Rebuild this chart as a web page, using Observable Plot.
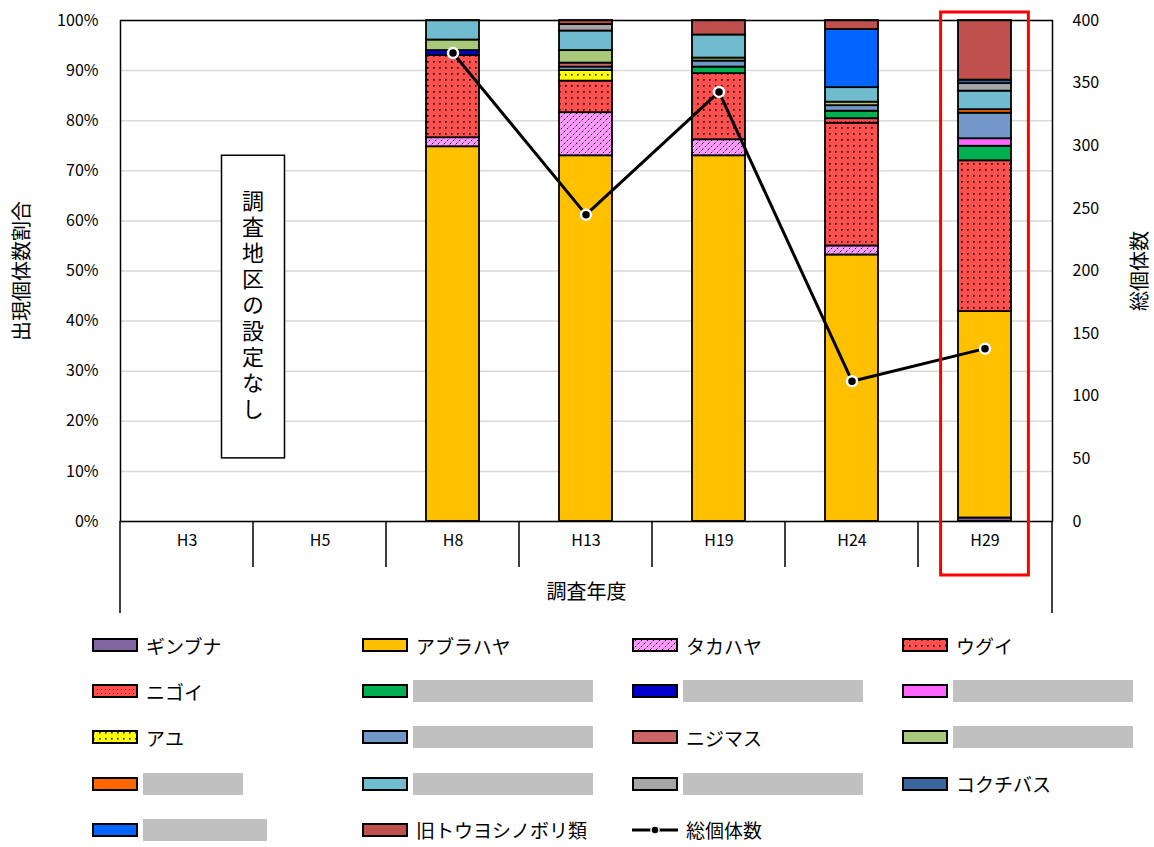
<!DOCTYPE html>
<html>
<head>
<meta charset="utf-8">
<script src="https://cdn.jsdelivr.net/npm/d3@7"></script>
<script src="https://cdn.jsdelivr.net/npm/@observablehq/plot@0.6"></script>
<style>
  body { margin: 0; background: #fff; font-family: "Noto Sans CJK JP", "Noto Sans", sans-serif; }
  #wrap { position: relative; width: 1154px; height: 847px; }
  #legend { position: absolute; left: 92px; top: 622px; display: grid;
            grid-template-columns: repeat(4, 270px); grid-auto-rows: 46.2px; }
  .item { display: flex; align-items: center; font-size: 19px; color: #000; }
  .item svg { flex: none; }
  .item span.lab { margin-left: 8px; white-space: nowrap; }
  .item span.mask { margin-left: 5px; height: 22px; background: #c0c0c0; }
</style>
</head>
<body>
<!-- fill patterns shared by the bars and the legend swatches -->
<svg width="0" height="0" style="position:absolute">
  <defs>
    <pattern id="pat-takahaya" width="6" height="6" patternUnits="userSpaceOnUse">
      <rect width="6" height="6" fill="#ff99ff"/>
      <path d="M0,6 L6,0" stroke="#000" stroke-width="1" stroke-dasharray="2,2"/>
    </pattern>
    <pattern id="pat-ugui" width="6" height="6" patternUnits="userSpaceOnUse">
      <rect width="6" height="6" fill="#ff5050"/>
      <rect x="1" y="1" width="1.6" height="1.6" fill="#000"/>
    </pattern>
    <pattern id="pat-nigoi" width="4" height="4" patternUnits="userSpaceOnUse">
      <rect width="4" height="4" fill="#ff5050"/>
      <rect x="1" y="1" width="1" height="1" fill="#333399"/>
    </pattern>
    <pattern id="pat-ayu" width="6" height="6" patternUnits="userSpaceOnUse">
      <rect width="6" height="6" fill="#ffff00"/>
      <rect x="1" y="2" width="1.6" height="1.6" fill="#1f1f80"/>
    </pattern>
  </defs>
</svg>
<div id="wrap"></div>
<script>
// survey years (category axis)
const years = ["H3", "H5", "H8", "H13", "H19", "H24", "H29"];

// species in stacking order (bottom to top), also the legend order
const species = ["ギンブナ", "アブラハヤ", "タカハヤ", "ウグイ", "ニゴイ", "非公表1", "非公表2", "非公表3",
                 "アユ", "非公表4", "ニジマス", "非公表5", "非公表6", "非公表7", "非公表8", "コクチバス",
                 "非公表9", "旧トウヨシノボリ類"];
// species whose names are withheld in the legend
const undisclosed = ["非公表1", "非公表2", "非公表3", "非公表4", "非公表5", "非公表6", "非公表7", "非公表8", "非公表9"];

// share of individuals (%) per species, aligned with `species`
const shareH8  = [0, 74.8, 1.8, 16.4, 0, 0, 1.0, 0, 0, 0, 0, 2.1, 0, 3.9, 0, 0, 0, 0];
const shareH13 = [0, 73.0, 8.6, 6.3, 0, 0, 0, 0, 2.1, 0.7, 0.8, 2.5, 0, 3.9, 1.3, 0, 0, 0.8];
const shareH19 = [0, 73.0, 3.2, 13.2, 0, 1.3, 0, 0, 0, 1.2, 0, 0.6, 0, 4.6, 0, 0, 0, 2.9];
const shareH24 = [0, 53.2, 1.8, 24.5, 0.9, 1.5, 0, 0, 0, 1.1, 0, 0.7, 0, 2.9, 0, 0, 11.6, 1.8];
const shareH29 = [0.7, 41.2, 0, 30.1, 0, 2.9, 0, 1.5, 0, 5.1, 0, 0, 0.7, 3.7, 1.5, 0.7, 0, 11.9];

// total number of individuals per year (right axis); null = not surveyed
const totals = [null, null, 374, 245, 343, 112, 138];

// axis ticks
const pctTicks = [0, 10, 20, 30, 40, 50, 60, 70, 80, 90, 100];
const countTicks = [0, 50, 100, 150, 200, 250, 300, 350, 400];
const countMax = 400;

// fills for each species (colours or patterns)
const speciesFill = ["#8064a2", "#ffc000", "url(#pat-takahaya)", "url(#pat-ugui)", "url(#pat-nigoi)",
                     "#00b050", "#0000cc", "#ff66ff", "url(#pat-ayu)", "#7298ca", "#cc6666", "#a9c97a",
                     "#ff6600", "#70bcce", "#a6a6a6", "#3c6699", "#0066ff", "#c0504d"];
// width of the grey masks over withheld names
const maskWidth = {"非公表1": 180, "非公表2": 180, "非公表3": 180, "非公表4": 180, "非公表5": 180,
                   "非公表6": 100, "非公表7": 180, "非公表8": 180, "非公表9": 124};

// long table for the stacked bars
const sharesByYear = {H8: shareH8, H13: shareH13, H19: shareH19, H24: shareH24, H29: shareH29};
const rows = [];
for (const yr of years) {
  const vals = sharesByYear[yr];
  if (!vals) continue;
  vals.forEach((v, j) => { if (v > 0) rows.push({year: yr, species: species[j], pct: v}); });
}
const totalRows = years.map((yr, i) => ({year: yr, total: totals[i]})).filter(d => d.total != null);
const toPct = c => c * 100 / countMax;

const font = "'Noto Sans CJK JP', 'Noto Sans', sans-serif";

const plot = Plot.plot({
  width: 1154,
  height: 620,
  marginLeft: 120,
  marginRight: 102,
  marginTop: 20,
  marginBottom: 99,
  style: {fontFamily: font, fontSize: "16px", color: "#000", background: "transparent", overflow: "visible"},
  x: {domain: years, paddingInner: 0.6, paddingOuter: 0.3, axis: null},
  y: {domain: [0, 100], axis: null},
  color: {domain: species, range: speciesFill},
  marks: [
    Plot.gridY(pctTicks, {stroke: "#d9d9d9", strokeOpacity: 1, strokeWidth: 1.5}),
    Plot.barY(rows, {x: "year", y: "pct", fill: "species", order: species,
                     stroke: "#000", strokeWidth: 1.8}),
    Plot.axisY(pctTicks, {anchor: "left", tickSize: 0, tickPadding: 22, label: null,
                          tickFormat: d => d + "%", fontSize: 16}),
    Plot.axisY(countTicks.map(toPct), {anchor: "right", tickSize: 0, tickPadding: 20, label: null,
                          tickFormat: d => String(Math.round(d * countMax / 100)), fontSize: 16}),
    Plot.frame({stroke: "#000", strokeWidth: 1.5}),
    Plot.text(years, {x: d => d, frameAnchor: "bottom", dy: 24, fontSize: 16}),
    Plot.text(["調査年度"], {frameAnchor: "bottom", dy: 77, fontSize: 20}),
    Plot.text(["出現個体数割合"], {frameAnchor: "left", dx: -98, rotate: -90, textAnchor: "middle", fontSize: 20}),
    Plot.text(["総個体数"], {frameAnchor: "right", dx: 88, rotate: -90, textAnchor: "middle", fontSize: 20}),
    Plot.line(totalRows, {x: "year", y: d => toPct(d.total), stroke: "#000", strokeWidth: 3}),
    Plot.dot(totalRows, {x: "year", y: d => toPct(d.total), r: 5, fill: "#000",
                         stroke: "#fff", strokeWidth: 2.5})
  ]
});

// category separators, the note box and the highlight frame, placed from the plot's scales
const xs = plot.scale("x"), ys = plot.scale("y");
const gap = xs.step - xs.bandwidth;
const y0 = ys.apply(0), yTop = ys.apply(100);
const [xLeft, xRight] = xs.range;
const svg = d3.select(plot);
const extra = svg.append("g").attr("stroke", "#000").attr("stroke-width", 1.5);
years.slice(1).forEach(yr => {
  const xb = xs.apply(yr) - gap / 2;
  extra.append("line").attr("x1", xb).attr("x2", xb).attr("y1", y0).attr("y2", y0 + 46);
});
[xLeft, xRight].forEach(xb => {
  extra.append("line").attr("x1", xb).attr("x2", xb).attr("y1", y0).attr("y2", y0 + 92);
});

// "no survey district" note between H3 and H5
const noteX = xs.apply("H5") - gap / 2;
const noteTop = ys.apply(73), noteBottom = ys.apply(12.6);
svg.append("rect").attr("x", noteX - 31.5).attr("y", noteTop).attr("width", 63)
  .attr("height", noteBottom - noteTop).attr("fill", "#fff").attr("stroke", "#000").attr("stroke-width", 1.5);
svg.append("text").attr("x", noteX).attr("y", (noteTop + noteBottom) / 2)
  .attr("text-anchor", "middle").attr("font-size", 22).attr("font-family", font)
  .style("writing-mode", "vertical-rl").style("text-orientation", "upright")
  .style("letter-spacing", "4px").text("調査地区の設定なし");

// highlight frame around the latest survey
const hx = xs.apply("H29") + xs.bandwidth / 2;
svg.append("rect").attr("x", hx - xs.step * 0.33).attr("y", yTop - 8)
  .attr("width", xs.step * 0.66).attr("height", y0 + 54 - (yTop - 8))
  .attr("fill", "none").attr("stroke", "#ff0000").attr("stroke-width", 3);

const wrap = document.getElementById("wrap");
wrap.appendChild(plot);

// legend
const legend = document.createElement("div");
legend.id = "legend";
species.forEach((s, j) => {
  const item = document.createElement("div");
  item.className = "item";
  item.innerHTML = `<svg width="46" height="14"><rect x="1" y="1" width="44" height="12" fill="${speciesFill[j]}" stroke="#000" stroke-width="2"/></svg>`;
  const lab = document.createElement("span");
  if (undisclosed.includes(s)) {
    lab.className = "mask";
    lab.style.width = maskWidth[s] + "px";
  } else {
    lab.className = "lab";
    lab.textContent = s;
  }
  item.appendChild(lab);
  legend.appendChild(item);
});
const lineItem = document.createElement("div");
lineItem.className = "item";
lineItem.innerHTML = `<svg width="46" height="14"><line x1="0" x2="46" y1="7" y2="7" stroke="#000" stroke-width="3"/><circle cx="23" cy="7" r="4" fill="#000" stroke="#fff" stroke-width="1.5"/></svg><span class="lab">総個体数</span>`;
legend.appendChild(lineItem);
wrap.appendChild(legend);
</script>
</body>
</html>
